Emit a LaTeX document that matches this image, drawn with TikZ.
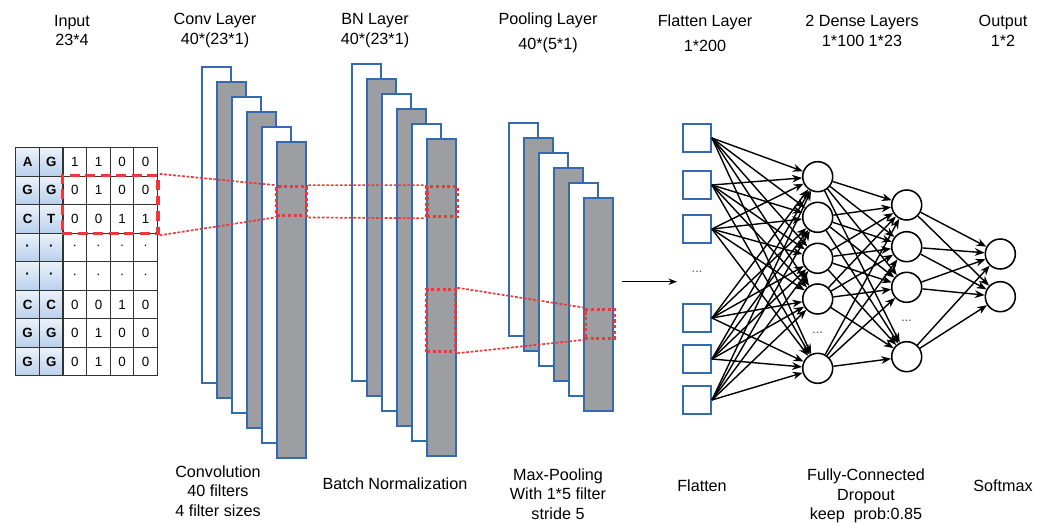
\documentclass[tikz,border=0pt]{standalone}
\usepackage{fontspec}
\setmainfont{Liberation Sans}
\usepackage{tikz}
\usetikzlibrary{arrows.meta}
\usetikzlibrary{matrix,fit}

\definecolor{fmblue}{RGB}{52,106,176}
\definecolor{fmgray}{RGB}{156,158,162}
\definecolor{selred}{RGB}{238,56,56}
\definecolor{celltop}{RGB}{236,242,250}
\definecolor{cellbot}{RGB}{184,208,236}

\tikzset{
  fmap/.style={draw=fmblue, line width=1.3pt},
  basecell/.style={top color=celltop, bottom color=cellbot, font=\fontsize{9.5}{10}\selectfont\bfseries},
  selbox/.style={draw=selred, line width=2.3pt, dash pattern=on 7pt off 4pt, inner sep=0pt},
  zoombox/.style={draw=selred, line width=2.2pt, dash pattern=on 2.2pt off 1.8pt, inner sep=0pt},
  link/.style={draw=selred, line width=1.2pt, dash pattern=on 2pt off 1.2pt},
  net/.style={draw=black, line width=1pt, -{Stealth[length=7pt,width=5.5pt]}},
}

\begin{document}
\begin{tikzpicture}[x=0.025cm, y=-0.025cm, font=\fontsize{11.5}{14}\selectfont]
\useasboundingbox (0,0) rectangle (1050,525);

% one-hot input
\matrix (grid) [matrix of nodes, anchor=north west, inner sep=0pt, column sep=-0.8pt, row sep=-0.8pt,
  nodes={draw=black!80, line width=0.8pt, minimum width=0.59cm, minimum height=0.713cm,
    inner sep=0pt, anchor=center, font=\fontsize{9.5}{10}\selectfont},
  column 1/.style={nodes={basecell}}, column 2/.style={nodes={basecell}}] at (15,146.7) {
  A & G & 1 & 1 & 0 & 0 \\
  G & G & 0 & 1 & 0 & 0 \\
  C & T & 0 & 0 & 1 & 1 \\
  · & · & · & · & · & · \\
  · & · & · & · & · & · \\
  C & C & 0 & 0 & 1 & 0 \\
  G & G & 0 & 1 & 0 & 0 \\
  G & G & 0 & 1 & 0 & 0 \\
};
\node[selbox, fit=(grid-2-3)(grid-3-6)] (sel) {};

% feature maps
\foreach \k/\c in {0/white,1/fmgray,2/white,3/fmgray,4/white,5/fmgray}{
  \filldraw[fmap, fill=\c] (201.7+15*\k, 66.7+15*\k) rectangle ++(29,316);
  \filldraw[fmap, fill=\c] (352+15*\k, 64.3+15*\k) rectangle ++(29,317);
  \filldraw[fmap, fill=\c] (509+15*\k, 122.7+15*\k) rectangle ++(29,213);
}

\node[zoombox, minimum width=0.75cm, minimum height=0.73cm] (cbox) at (291.7,201.3) {};
\node[zoombox, minimum width=0.76cm, minimum height=0.75cm] (bbox1) at (442.2,201.7) {};
\node[zoombox, minimum width=0.72cm, minimum height=1.56cm] (bbox2) at (441.3,320.5) {};
\node[zoombox, minimum width=0.73cm, minimum height=0.73cm] (pbox) at (599.7,323.7) {};

\path[link] (sel.north east) -- (cbox.north west);
\path[link] (sel.south east) -- (cbox.south west);
\path[link] (cbox.north east) -- (bbox1.north west);
\path[link] (cbox.south east) -- (bbox1.south west);
\path[link] (bbox2.north east) -- (pbox.north west);
\path[link] (bbox2.south east) -- (pbox.south west);

\coordinate (pout) at (622,281.7);
\coordinate (fin) at (677,281.7);
\draw[line width=1pt, -{Stealth[length=6pt,width=4.5pt]}] (pout) -- (fin);

% fully connected part
\begin{scope}[every node/.style={draw=fmblue, line width=1.3pt, minimum size=0.7cm, inner sep=0pt}]
  \node (f1) at (697,138) {};
  \node (f2) at (697,185) {};
  \node (f3) at (697,229) {};
  \node (f4) at (697,318) {};
  \node (f5) at (697,359) {};
  \node (f6) at (697,400) {};
\end{scope}

\begin{scope}[every node/.style={circle, draw=black, fill=white, line width=1.1pt, minimum size=0.75cm, inner sep=0pt}]
  \node (d1) at (817.7,176.7) {};
  \node (d2) at (817.7,217.3) {};
  \node (d3) at (817.7,258.3) {};
  \node (d4) at (817.7,299) {};
  \node (d5) at (817.7,368.3) {};
  \node (h1) at (906.7,205) {};
  \node (h2) at (906.7,246.7) {};
  \node (h3) at (906.7,287.3) {};
  \node (h4) at (906.7,356.7) {};
  \node (o1) at (1000.3,254) {};
  \node (o2) at (1000.3,296.7) {};
\end{scope}

\begin{scope}[every node/.style={text=black!70, font=\fontsize{9}{9}\selectfont}]
  \node (fdots) at (697,272) {...};
  \node (ddots) at (817.7,333) {...};
  \node (hdots) at (906.7,321) {...};
\end{scope}

\foreach \i in {1,...,6}
  \foreach \j in {1,...,5}
    \path[net] (f\i.east) -- (d\j);
\foreach \i in {1,...,5}
  \foreach \j in {1,...,4}
    \path[net] (d\i) -- (h\j);
\foreach \i in {1,...,4}
  \foreach \j in {1,2}
    \path[net] (h\i) -- (o\j);

% titles and captions
\begin{scope}[every node/.style={align=center}]
  \node (tin) at (72,30.5) {Input\\23*4};
  \node (tconv) at (215,30.5) {Conv Layer\\40*(23*1)};
  \node (tbn) at (375,30.5) {BN Layer\\40*(23*1)};
  \node (tpool) at (548,33) {Pooling Layer\\[4pt]40*(5*1)};
  \node (tflat) at (705,33) {Flatten Layer\\[4pt]1*200};
  \node (tdense) at (862,31) {2 Dense Layers\\1*100 1*23};
  \node (tout) at (1003,31) {Output\\1*2};

  \node (cconv) at (218,491) {Convolution\\40 filters\\4 filter sizes};
  \node (cbn) at (395,484) {Batch Normalization};
  \node (cpool) at (558,494) {Max-Pooling\\With 1*5 filter\\stride 5};
  \node (cflat) at (702,486) {Flatten};
  \node (cdense) at (866,496) {Fully-Connected\\Dropout\\keep\ \ prob:0.85};
  \node (cout) at (1003,486) {Softmax};
\end{scope}

\end{tikzpicture}
\end{document}
